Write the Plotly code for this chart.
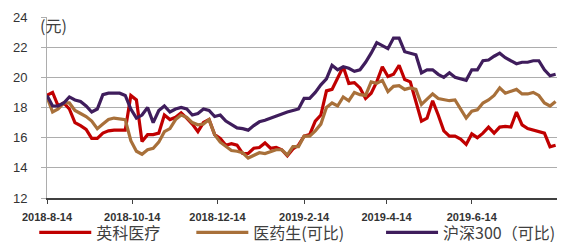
import datetime as dt
import plotly.graph_objects as go

start = dt.date(2018, 8, 14)
step_days = 4

ying_ke = [18.8, 19.0, 18.1, 18.3, 17.9, 17.0, 16.8, 16.55, 15.95, 15.95,
           16.3, 16.45, 16.5, 16.5, 16.5, 18.8, 18.5, 15.75, 16.2, 16.2,
           16.3, 17.5, 17.2, 17.35, 17.65, 17.3, 16.9, 16.4, 17.0, 17.2,
           16.2, 15.95, 15.5, 15.6, 15.5, 14.95, 14.95, 15.3, 15.35, 15.65,
           15.3, 15.35, 15.2, 14.8, 15.25, 15.5, 16.1, 16.2, 17.1, 17.5,
           19.1, 19.2, 19.9, 20.7, 19.6, 19.65, 19.3, 18.6, 18.95, 19.7,
           20.7, 20.05, 20.2, 20.8, 19.85, 19.7, 18.4, 17.1, 17.3, 18.45,
           17.5, 16.45, 16.1, 16.1, 15.9, 15.55, 16.25, 16.0, 16.3, 16.7,
           16.3, 16.7, 16.75, 16.7, 17.7, 16.85, 16.6, 16.5, 16.4, 16.3,
           15.4, 15.5]

yiyao = [18.7, 17.7, 17.9, 18.3, 18.3, 17.8, 17.6, 17.4, 17.1, 16.6,
         16.9, 17.2, 17.3, 17.25, 17.2, 15.8, 15.1, 14.9, 15.2, 15.3,
         15.7, 16.4, 16.6, 17.2, 17.5, 17.35, 17.0, 16.85, 16.9, 17.2,
         16.2, 15.7, 15.45, 15.15, 15.1, 15.0, 14.65, 14.8, 15.0, 14.95,
         15.1, 15.2, 15.2, 14.85, 15.4, 15.4, 16.1, 16.1, 16.45, 16.9,
         18.0, 18.3, 18.1, 18.7, 18.45, 19.0, 18.85, 18.8, 19.7, 19.6,
         19.8, 19.05, 19.4, 19.45, 19.2, 19.3, 19.2, 18.2, 18.55, 18.9,
         18.6, 18.5, 18.45, 18.5, 17.9, 17.3, 17.75, 17.85, 18.3, 18.5,
         18.8, 19.3, 18.95, 19.1, 19.2, 18.9, 18.9, 19.0, 18.8, 18.3,
         18.1, 18.4]

hs300 = [18.8, 18.1, 18.1, 18.3, 18.7, 18.5, 18.4, 18.1, 17.7, 17.9,
         18.85, 18.95, 18.95, 18.95, 18.8, 17.9, 17.3, 17.5, 18.0, 17.0,
         17.8, 18.1, 17.7, 17.9, 18.0, 17.9, 17.5, 17.6, 17.9, 17.8,
         17.4, 17.5, 17.1, 16.85, 16.65, 16.6, 16.5, 16.8, 17.05, 17.15,
         17.3, 17.4, 17.6, 17.7, 17.8, 17.9, 18.6, 18.6, 19.0, 19.5,
         19.9, 20.8, 20.5, 20.7, 20.6, 20.4, 20.5, 21.0, 21.6, 22.3,
         22.1, 21.9, 22.6, 22.6, 21.7, 21.6, 21.5, 20.3, 20.5, 20.5,
         20.2, 20.0, 20.3, 20.0, 19.9, 19.8, 20.5, 20.5, 21.1, 21.15,
         21.4, 21.6, 21.3, 21.1, 20.9, 21.0, 21.0, 21.1, 21.1, 20.5,
         20.1, 20.2]

dates = [start + dt.timedelta(days=step_days * i) for i in range(len(hs300))]

tick_dates = ["2018-08-14", "2018-10-14", "2018-12-14", "2019-02-14",
              "2019-04-14", "2019-06-14"]
tick_labels = ["2018-8-14", "2018-10-14", "2018-12-14", "2019-2-14",
               "2019-4-14", "2019-6-14"]

names = ["英科医疗", "医药生(可比)", "沪深300（可比)"]
colors = ["#C00000", "#A8703A", "#3F1D5C"]
series = [ying_ke, yiyao, hs300]
legends = ["legend", "legend2", "legend3"]

FONT = "Liberation Sans, Arial, Noto Sans CJK SC, sans-serif"
CJK = "Noto Sans CJK SC, Liberation Sans, sans-serif"

fig = go.Figure()
for name, col, vals, lg in zip(names, colors, series, legends):
    fig.add_trace(go.Scatter(x=dates, y=vals, mode="lines", name=name,
                             line=dict(color=col, width=3.2), legend=lg,
                             showlegend=True))

leg_common = dict(orientation="h", yanchor="middle", y=-0.19, xanchor="left",
                  itemwidth=52, bgcolor="rgba(0,0,0,0)",
                  font=dict(family=CJK, size=16, color="#404040"))

fig.update_layout(
    width=562, height=242,
    showlegend=True,
    margin=dict(l=47, r=5, t=17, b=44, autoexpand=False),
    plot_bgcolor="white", paper_bgcolor="white",
    font=dict(family=FONT, color="#404040"),
    legend=dict(x=-0.025, **leg_common),
    legend2=dict(x=0.283, **leg_common),
    legend3=dict(x=0.655, **leg_common),
    xaxis=dict(type="date", range=["2018-08-14", "2019-08-14"],
               tickvals=tick_dates, ticktext=tick_labels,
               showgrid=False, showline=True, linecolor="#404040", linewidth=1.5,
               ticks="outside", ticklen=4, tickcolor="#404040",
               ticklabelstandoff=4,
               tickfont=dict(family=FONT, size=11, color="#333333", weight="bold")),
    yaxis=dict(range=[12, 24], dtick=2, tick0=12,
               showgrid=True, gridcolor="#ADADAD", gridwidth=1,
               showline=True, linecolor="#ADADAD", linewidth=1,
               ticks="outside", ticklen=5, tickcolor="#ADADAD",
               ticklabelstandoff=11,
               zeroline=False,
               tickfont=dict(family=FONT, size=13, color="#333333")),
    annotations=[dict(text="(元)", xref="paper", yref="paper",
                      x=(38 - 47) / 510, y=1 + (17 - 25) / 181,
                      xanchor="left", yanchor="middle", showarrow=False,
                      font=dict(family=CJK, size=16, color="#404040"))],
)

fig.write_html("out.html", config={"displayModeBar": False},
               post_script="document.body.style.margin='0';document.body.style.overflow='hidden';")
